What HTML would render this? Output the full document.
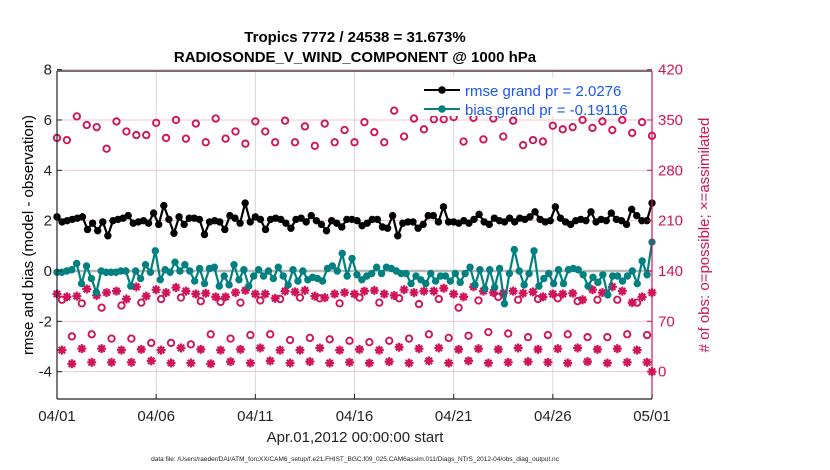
<!DOCTYPE html>
<html><head><meta charset="utf-8">
<style>
html,body{margin:0;padding:0;background:#fff;}
svg{display:block;font-family:"Liberation Sans",Arial,sans-serif;}
</style></head>
<body>
<svg id="chart" width="830" height="470" viewBox="0 0 830 470">
<text x="355" y="42" font-size="15" font-weight="bold" text-anchor="middle">Tropics 7772 / 24538 = 31.673%</text>
<text x="355" y="62" font-size="15" font-weight="bold" text-anchor="middle">RADIOSONDE_V_WIND_COMPONENT @ 1000 hPa</text>
<g id="grid"></g>
<g id="marks"></g>
<g id="axes"></g>
<g>
<rect x="418" y="78" width="232" height="38" fill="#fff"/>
<g>
<line x1="424" y1="90" x2="460" y2="90" stroke="#000" stroke-width="2"/><circle cx="442" cy="90" r="3.8" fill="#000"/>
<text x="465" y="96" font-size="15" fill="#1a56f0">rmse grand pr = 2.0276</text></g>
<g>
<line x1="424" y1="109" x2="460" y2="109" stroke="#008080" stroke-width="2"/><circle cx="442" cy="109" r="3.8" fill="#008080"/>
<text x="465" y="115" font-size="15" fill="#1a56f0">bias grand pr = -0.19116</text></g>
</g>
<text transform="translate(33,235) rotate(-90)" font-size="15" text-anchor="middle">rmse and bias (model - observation)</text>
<text transform="translate(709,235) rotate(-90)" font-size="15" text-anchor="middle" fill="#d0145a"># of obs: o=possible; ×=assimilated</text>
<text x="355" y="442" font-size="15" text-anchor="middle" fill="#222">Apr.01,2012 00:00:00 start</text>
<text x="355" y="461" font-size="6.5" text-anchor="middle" fill="#222">data file: /Users/raeder/DAI/ATM_forcXX/CAM6_setup/f.e21.FHIST_BGC.f09_025.CAM6assim.011/Diags_NTrS_2012-04/obs_diag_output.nc</text>
</svg>
<script>
const xTickLabels=["04/01","04/06","04/11","04/16","04/21","04/26","05/01"];
const xTickDays=[0,5,10,15,20,25,30];
const yLeftTicks=[-4,-2,0,2,4,6,8];
const yRightTicks=[0,70,140,210,280,350,420];
const rmse=[2.15,1.95,2.0,2.05,2.1,2.15,1.65,1.9,1.6,1.95,1.4,2.0,2.05,2.1,2.2,1.9,1.95,2.0,1.9,2.3,1.85,2.6,2.05,1.5,2.15,1.85,2.1,2.1,2.05,1.45,1.95,2.0,1.95,1.65,2.2,2.1,1.9,2.7,1.95,2.15,2.05,1.65,2.05,2.1,
2.05,1.9,1.7,2.05,2.1,1.95,2.2,2.0,1.85,1.6,2.0,1.9,1.75,2.05,2.05,2.0,1.8,1.9,2.05,2.05,1.75,1.7,2.2,1.4,1.9,1.95,1.95,1.7,1.85,2.2,2.2,1.95,2.55,1.95,1.95,1.9,
2.0,1.9,2.05,2.25,1.95,1.85,2.1,2.0,1.95,2.1,1.95,2.1,2.05,2.15,2.35,2.05,1.95,2.0,2.55,2.1,1.95,1.85,2.0,2.05,2.0,2.35,1.95,2.05,2.0,2.3,2.05,2.0,1.85,2.45,2.2,2.0,2.0,2.7];
const bias=[-0.05,-0.05,0.0,0.05,0.3,-0.5,0.2,-0.3,-0.85,0.0,-0.05,-0.05,-0.05,0.0,0.0,-0.6,0.0,-0.3,0.25,-0.05,0.8,-0.35,0.05,-0.05,0.35,0.0,0.25,0.0,-0.4,0.1,-0.5,0.1,0.15,-0.6,-0.2,-0.55,0.25,-0.35,0.05,-0.6,-0.2,0.05,-0.2,0.0,
-0.3,0.15,-0.2,-0.55,0.05,-0.4,0.0,-0.35,-0.25,-0.3,-0.4,0.1,0.2,0.0,0.7,-0.2,0.5,-0.15,-0.35,-0.2,-0.1,0.15,-0.1,0.15,0.1,0.0,-0.1,-0.1,-0.5,-0.2,-0.35,-0.5,-0.1,-0.4,-0.2,
-0.2,-0.4,-0.1,-0.45,-0.1,0.15,-0.55,0.05,-0.7,0.05,-0.65,0.1,-1.3,-0.1,0.85,0.0,-0.55,-0.1,0.8,-0.6,-0.3,-0.1,-0.5,0.05,-0.5,0.05,0.1,0.05,-0.15,-0.6,-0.25,-0.45,-0.15,-0.95,-0.2,-0.2,-0.4,-0.2,0.0,-0.5,0.4,-0.15,1.15];
const possHigh=[325,322,355,343,340,310,348,334,329,329,346,325,350,324,345,319,352,324,334,317,348,334,319,349,319,341,314,345,319,336,319,347,333,319,363,327,352,337,351,351,354,320,353,323,352,327,349,315,322,320,342,337,340,350,339,348,336,350,332,347,328];
const possMid=[100,95,89,92,96,101,103,98,97,96,99,101,103,102,95,103,96,102,94,101,89,99,104,100,101,102,98,100,100,96];
const possLow=[49,52,46,46,40,40,38,52,46,51,52,44,47,45,43,41,43,46,52,47,50,55,53,48,51,52,48,48,52,51];
const assimMid=[108,104,105,115,106,110,112,101,118,105,114,110,117,112,108,109,104,104,110,113,108,108,102,112,111,113,105,103,108,110,108,112,113,108,106,114,110,112,112,116,108,104,118,112,110,109,112,109,111,104,108,108,109,100,114,110,118,112,96,104,110];
const assimLow=[30,11,32,13,32,13,30,13,31,15,30,12,33,12,31,11,30,14,31,12,33,15,30,12,30,14,33,12,30,13,31,12,30,14,34,12,32,15,33,12,31,15,32,12,31,13,33,14,31,13,32,12,33,14,31,12,32,13,30,13];
const assimLowLast=0;

const NS="http://www.w3.org/2000/svg";
const X0=57,X1=652,Y_TOP=71,Y_BOT=399;
const yL=v=>271-v*25.17;
const yR=r=>yL(r/35-4);
const xD=d=>X0+d*(X1-X0)/30;
function mk(tag,attrs,parent){const e=document.createElementNS(NS,tag);for(const k in attrs)e.setAttribute(k,attrs[k]);parent.appendChild(e);return e;}
const grid=document.getElementById('grid'),marks=document.getElementById('marks'),axes=document.getElementById('axes');
const CR="#d0145a";
xTickDays.forEach(d=>{const l=mk('line',{x1:xD(d),x2:xD(d),y1:Y_TOP,y2:Y_BOT,stroke:'#d8d8d8','stroke-width':1},grid);

});
yRightTicks.forEach(r=>{const l=mk('line',{x1:X0,x2:X1,y1:yR(r),y2:yR(r),stroke:'#f2c6d6','stroke-width':1},grid);

});
const z=mk('line',{x1:X0,x2:X1,y1:yL(0),y2:yL(0),stroke:'#b8b8b8','stroke-width':2.5},grid);


function circles(arr,start,step,name){arr.forEach((r,i)=>{const c=mk('circle',{cx:xD(start+i*step),cy:yR(r),r:3.2,fill:'none',stroke:CR,'stroke-width':1.9},marks);

});}
function stars(arr,start,step,name){arr.forEach((r,i)=>{const x=xD(start+i*step),y=yR(r);const g=mk('path',{d:`M${x-4.5},${y}H${x+4.5}M${x},${y-4.5}V${y+4.5}M${x-3.2},${y-3.2}L${x+3.2},${y+3.2}M${x-3.2},${y+3.2}L${x+3.2},${y-3.2}`,stroke:CR,'stroke-width':2.2,fill:'none'},marks);

});}
circles(possHigh,0,0.5,'possible-obs-high');
circles(possMid,0.25,1,'possible-obs-mid');
circles(possLow,0.75,1,'possible-obs-low');
stars(assimMid,0,0.5,'assimilated-obs-mid');
stars(assimLow,0.25,0.5,'assimilated-obs-low');
stars([assimLowLast],30,1,'assimilated-obs-low');
function series(arr,color,name){const step=30/(arr.length-1);
const p=mk('polyline',{points:arr.map((v,i)=>xD(i*step)+','+yL(v)).join(' '),fill:'none',stroke:color,'stroke-width':2.2},marks);


arr.forEach((v,i)=>{const c=mk('circle',{cx:xD(i*step),cy:yL(v),r:3.7,fill:color},marks);

});}
series(bias,'#008080','bias');
series(rmse,'#000','rmse');
const b=mk('path',{d:`M${X0},${Y_TOP}H${X1}M${X0},${Y_BOT}H${X1}M${X0},${Y_TOP}V${Y_BOT}`,stroke:'#222','stroke-width':1.2,fill:'none'},axes);


const ra=mk('line',{x1:X1,x2:X1,y1:Y_TOP,y2:Y_BOT,stroke:CR,'stroke-width':1.2},axes);


xTickDays.forEach((d,i)=>{mk('line',{x1:xD(d),x2:xD(d),y1:Y_BOT,y2:Y_BOT-5,stroke:'#222'},axes);
const t=mk('text',{x:xD(d),y:Y_BOT+22,'font-size':15,'text-anchor':'middle',fill:'#222'},axes);t.textContent=xTickLabels[i];

});
yLeftTicks.forEach(v=>{mk('line',{x1:X0,x2:X0+5,y1:yL(v),y2:yL(v),stroke:'#222'},axes);
const t=mk('text',{x:X0-5,y:yL(v)+5,'font-size':15,'text-anchor':'end',fill:'#222'},axes);t.textContent=v;

});
yRightTicks.forEach(r=>{mk('line',{x1:X1,x2:X1-5,y1:yR(r),y2:yR(r),stroke:CR},axes);
const t=mk('text',{x:X1+6,y:yR(r)+5,'font-size':15,fill:CR},axes);t.textContent=r;

});
</script>
</body></html>
